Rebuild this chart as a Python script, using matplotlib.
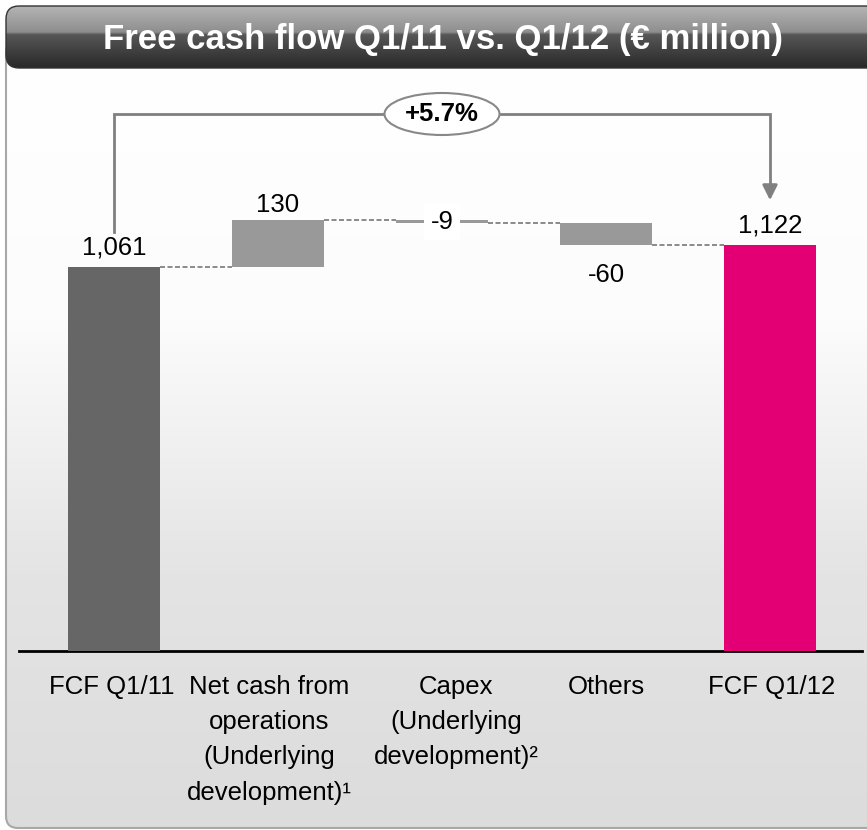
import numpy as np
import matplotlib
matplotlib.use("Agg")
import matplotlib.pyplot as plt
import matplotlib.transforms as mtransforms
from matplotlib.patches import FancyBboxPatch, Ellipse
from matplotlib.colors import LinearSegmentedColormap

plt.rcParams['font.family'] = ['Liberation Sans', 'DejaVu Sans']

# data
categories = ["FCF Q1/11", "Net cash from\noperations\n(Underlying\ndevelopment)\u00b9",
              "Capex\n(Underlying\ndevelopment)\u00b2", "Others", "FCF Q1/12"]
values = [1061, 130, -9, -60, 1122]
value_labels = ["1,061", "130", "-9", "-60", "1,122"]
kinds = ["total", "delta", "delta", "delta", "total"]
change_label = "+5.7%"
title = "Free cash flow Q1/11 vs. Q1/12 (\u20ac million)"

col_start = "#666666"
col_delta = "#999999"
col_end = "#e20074"

W, H = 867, 830
fig = plt.figure(figsize=(W / 100, H / 100), dpi=100)

## background: header band + gradient panel
bg = fig.add_axes([0, 0, 1, 1])
bg.set_xlim(0, W)
bg.set_ylim(H, 0)
bg.axis("off")

panel = FancyBboxPatch((6, 40), W + 20, 788, boxstyle="round,pad=0,rounding_size=12",
                       fc="none", ec="#a8a8a8", lw=1.5, zorder=3)
bg.add_patch(panel)
grad = LinearSegmentedColormap.from_list("g", ["#ffffff", "#fcfcfc", "#e4e4e4", "#dcdcdc"])
im = bg.imshow(np.linspace(0, 1, 256).reshape(-1, 1), cmap=grad, aspect="auto",
               extent=(0, W, 828, 68), zorder=1)
im.set_clip_path(panel)

header = FancyBboxPatch((6, 6), W + 20, 62, boxstyle="round,pad=0,rounding_size=13",
                        fc="none", ec="#333333", lw=1.0, zorder=5)
bg.add_patch(header)
hgrad = LinearSegmentedColormap.from_list(
    "h", [(0, "#b4b4b4"), (0.42, "#8e8e8e"), (0.46, "#575757"), (1.0, "#282828")])
him = bg.imshow(np.linspace(0, 1, 256).reshape(-1, 1), cmap=hgrad, aspect="auto",
                extent=(0, W, 68, 6), zorder=4)
him.set_clip_path(header)
bg.text(443, 40, title, color="white", fontsize=25, fontweight="bold",
        ha="center", va="center", zorder=6)

## waterfall
px_per_unit = 384 / 1061.0
ax = fig.add_axes([19 / W, (H - 651) / H, (862 - 19) / W, (651 - 80) / H])
ax.set_facecolor("none")
ax.set_xlim(-(114 - 19) / 164, (862 - 114) / 164)
ax.set_ylim(0, (651 - 80) / px_per_unit)
for s in ["top", "right", "left"]:
    ax.spines[s].set_visible(False)
ax.spines["bottom"].set_linewidth(2)
ax.set_yticks([])

x = np.arange(len(values))
bw = 0.56
running = 0
tops = []
for i, (v, k) in enumerate(zip(values, kinds)):
    if k == "total":
        bottom, height = 0, v
        running = v
        c = col_start if i == 0 else col_end
    else:
        bottom, height = running, v
        running = running + v
        c = col_delta
    ax.bar(x[i], height, bw, bottom=bottom, color=c, zorder=3)
    tops.append(running)

# connectors
for i in range(len(values) - 1):
    ax.plot([x[i] + bw / 2, x[i + 1] - bw / 2], [tops[i], tops[i]], ls=(0, (3, 1.5)),
            color="#777777", lw=1.2, zorder=2)

# value labels
fs = 18.5
ax.text(x[0], values[0] + 22, value_labels[0], ha="center", va="bottom", fontsize=fs)
ax.text(x[1], tops[1] + 8, value_labels[1], ha="center", va="bottom", fontsize=fs)
ax.text(x[2], tops[1] - 6, value_labels[2], ha="center", va="center", fontsize=fs,
        bbox=dict(fc="white", ec="none", pad=4.5), zorder=4)
ax.text(x[3], tops[3] - 50, value_labels[3], ha="center", va="top", fontsize=fs)
ax.text(x[4], values[4] + 20, value_labels[4], ha="center", va="bottom", fontsize=fs)

# bracket with arrow
ytop = (651 - 114) / px_per_unit
yleft = (651 - 232) / px_per_unit
ytip = (651 - 203) / px_per_unit
ax.plot([x[0], x[0], x[4], x[4]], [yleft, ytop, ytop, ytip + 40], color="#808080", lw=2,
        solid_joinstyle="miter", zorder=2)
ax.annotate("", xy=(x[4], ytip), xytext=(x[4], ytip + 45),
            arrowprops=dict(arrowstyle="-|>,head_length=0.9,head_width=0.45",
                            color="#808080", lw=2))
ax.add_patch(Ellipse((x[2], ytop), 115 / 164, 42 / px_per_unit, fc="white",
                     ec="#888888", lw=1.5, zorder=4))
ax.text(x[2], ytop, change_label, ha="center", va="center", fontsize=18.5,
        fontweight="bold", zorder=5)

ax.set_xticks(x)
ax.set_xticklabels(categories, fontsize=fs, linespacing=1.6, va="top")
ax.tick_params(axis="x", length=0, pad=17)
# the text boxes in the original sit a little off-centre for two categories
for lab, dx in zip(ax.get_xticklabels(), [-2, -9, 14, 0, 2]):
    lab.set_transform(lab.get_transform() +
                      mtransforms.ScaledTranslation(dx / 100, 0, fig.dpi_scale_trans))

fig.savefig("out.png", dpi=100)
